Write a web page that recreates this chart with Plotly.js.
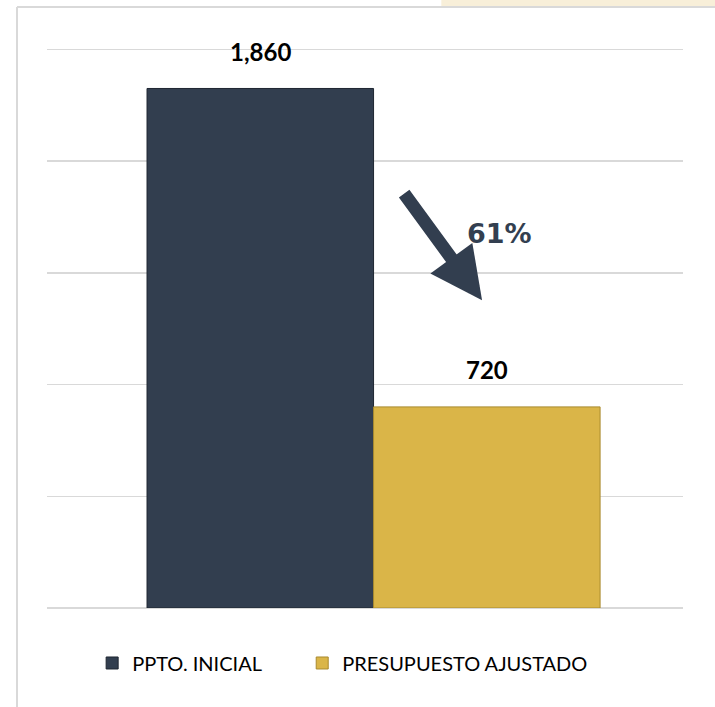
<!DOCTYPE html>
<html>
<head>
<meta charset="utf-8">
<script src="https://cdn.plot.ly/plotly-3.0.1.min.js"></script>
<style>html,body{margin:0;padding:0;background:#fff;}#chart{width:715px;height:707px;}</style>
</head>
<body>
<div id="chart"></div>
<script>
const categories = ['PPTO. INICIAL', 'PRESUPUESTO AJUSTADO'];
const values = [1860, 720];
const barColors = ['#323e4f', '#dab548'];
const barLines = ['#1e2631', '#a98a2f'];
const changeLabel = '61%';
const gridTicks = [0, 400, 800, 1200, 1600, 2000];

const legendPad = ['\u00a0'.repeat(7), ''];

const traces = categories.map((c, i) => ({
  type: 'bar',
  x: [i],
  y: [values[i]],
  width: [1],
  name: c + legendPad[i],
  marker: { color: barColors[i], line: { color: barLines[i], width: 1 } },
  hoverinfo: 'skip'
}));

const valueAnnotations = values.map((v, i) => ({
  x: i, y: v, xref: 'x', yref: 'y',
  text: '<b>' + v.toLocaleString('en-US') + '</b>',
  showarrow: false, yshift: 37, yanchor: 'middle',
  font: { family: 'Lato, sans-serif', size: 24, color: '#000000' }
}));

const layout = {
  width: 715, height: 707,
  margin: { l: 47, r: 32, t: 41, b: 99 },
  paper_bgcolor: '#ffffff', plot_bgcolor: '#ffffff',
  barmode: 'overlay',
  showlegend: true,
  xaxis: { range: [-0.9415, 1.866], showgrid: false, zeroline: false, showticklabels: false, ticks: '', fixedrange: true },
  yaxis: { range: [0, 2030], tickvals: gridTicks, showticklabels: false, showgrid: true, gridcolor: '#d9d9d9', gridwidth: 1.5,
           zeroline: true, zerolinecolor: '#d9d9d9', zerolinewidth: 1.5, ticks: '', fixedrange: true },
  legend: { orientation: 'h', x: 0.071, xanchor: 'left', y: -0.097, yanchor: 'middle',
            font: { family: 'Lato, sans-serif', size: 20, color: '#000000' }, itemclick: false },
  annotations: valueAnnotations.concat([
    { x: 0.979, y: 1102, xref: 'x', yref: 'y', ax: -79, ay: -108, axref: 'pixel', ayref: 'pixel',
      showarrow: true, arrowhead: 2, arrowsize: 0.8, arrowwidth: 13, arrowcolor: '#323e4f', text: '' },
    { x: 1.058, y: 1342, xref: 'x', yref: 'y', text: '<b>' + changeLabel + '</b>', showarrow: false,
      font: { family: 'DejaVu Sans, Verdana, sans-serif', size: 27, color: '#333f50' } }
  ]),
  shapes: [
    { type: 'rect', xref: 'paper', yref: 'paper', x0: 0.62, x1: 1.06, y0: 1.060, y1: 1.075, fillcolor: '#f8efd9', line: { width: 0 }, layer: 'below' },
    { type: 'line', xref: 'paper', yref: 'paper', x0: -0.0472, x1: 1.06, y0: 1.060, y1: 1.060, line: { color: '#d9d9d9', width: 2 } },
    { type: 'line', xref: 'paper', yref: 'paper', x0: -0.0472, x1: -0.0472, y0: 1.060, y1: -0.18, line: { color: '#d9d9d9', width: 2 } }
  ]
};

Plotly.newPlot('chart', traces, layout, { displayModeBar: false, staticPlot: true });
</script>
</body>
</html>
